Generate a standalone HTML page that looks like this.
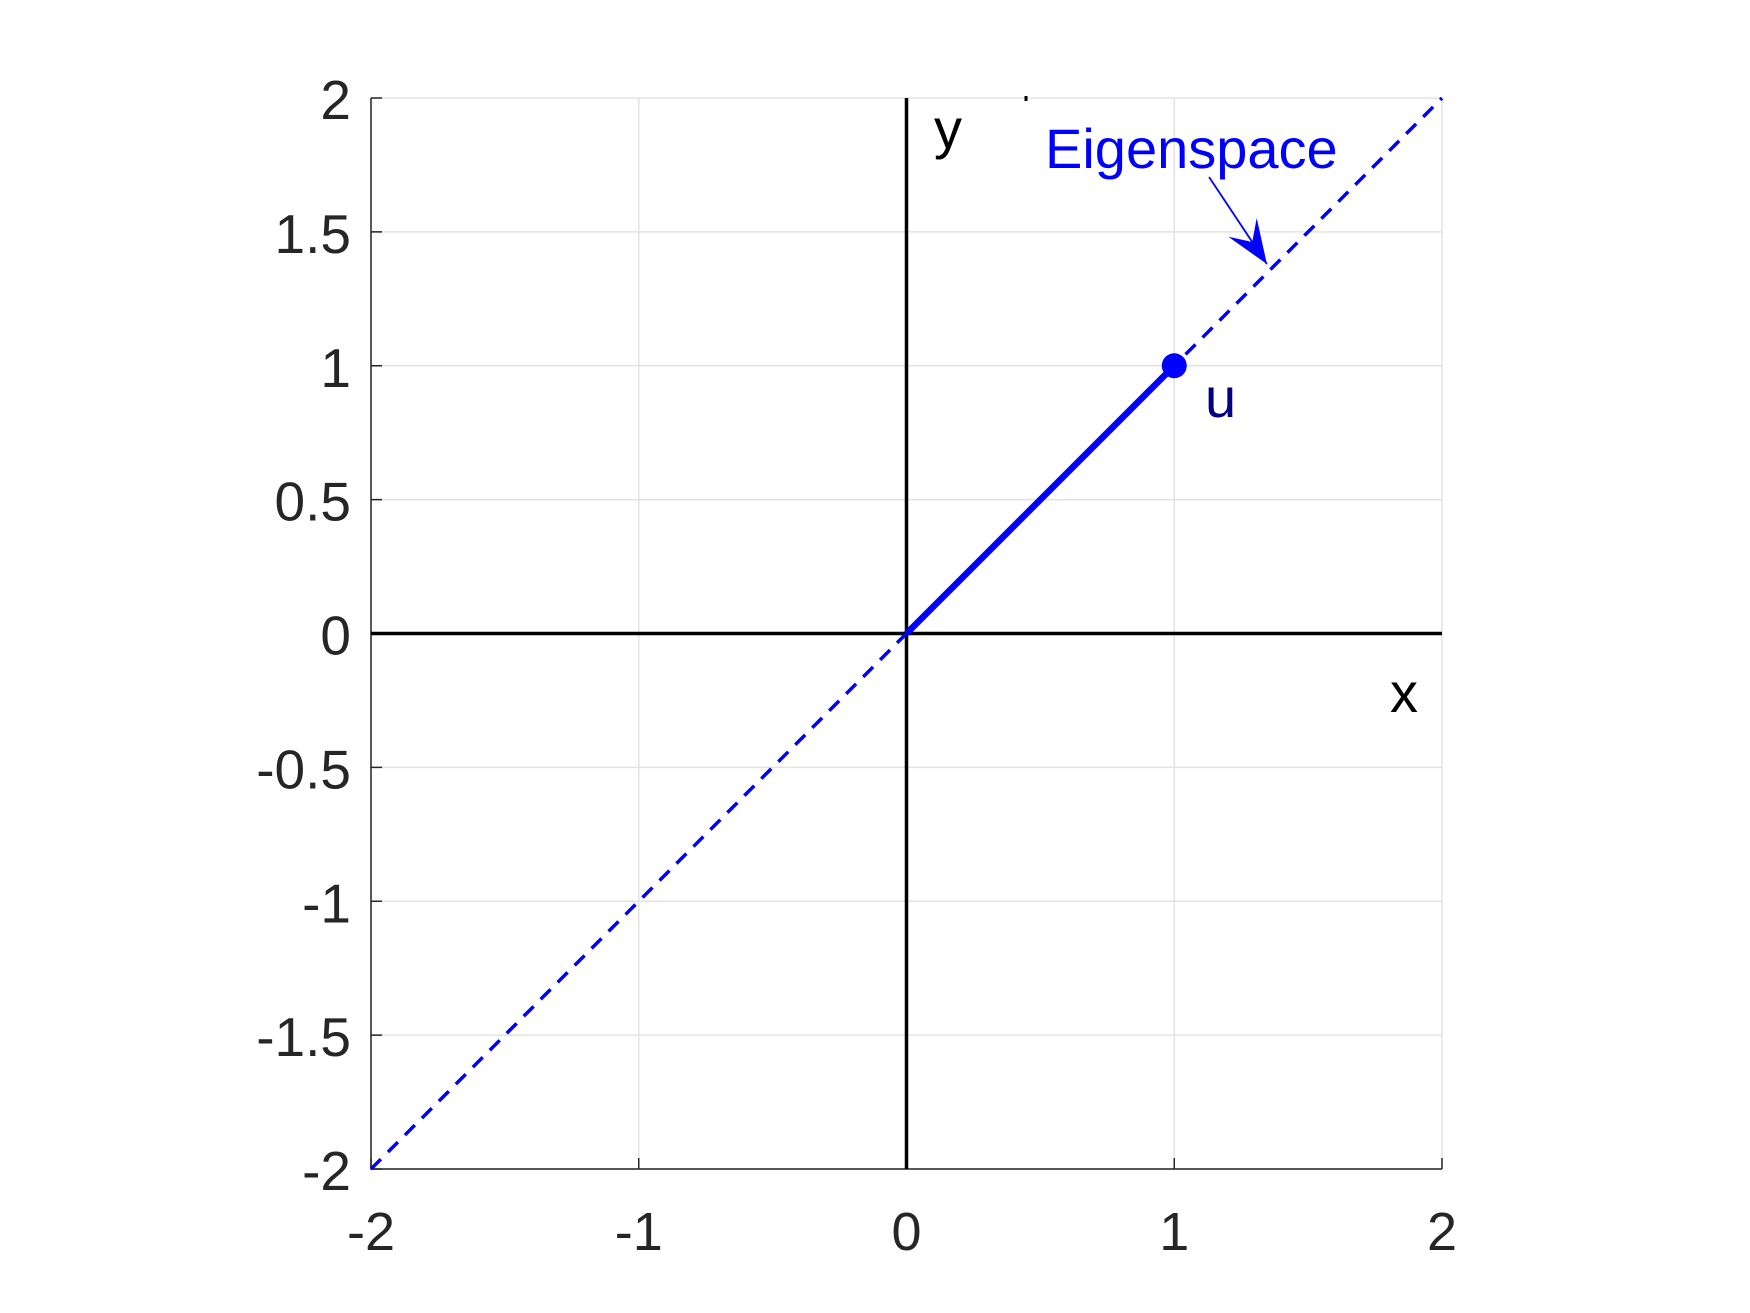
<!DOCTYPE html>
<html><head><meta charset="utf-8"><style>
html,body{margin:0;padding:0;background:#fff;}
svg{display:block;font-family:"Liberation Sans",Arial,sans-serif;}
</style></head><body>
<svg id="chart" width="1750" height="1313" viewBox="0 0 1750 1313">
<g id="grid"></g>
<g id="axes"></g>
<g id="series"></g>
<g id="labels"></g>
</svg>
<script>
const xTicks=[-2,-1,0,1,2];
const yTicks=[-2,-1.5,-1,-0.5,0,0.5,1,1.5,2];
const xTickLabels=["-2","-1","0","1","2"];
const yTickLabels=["-2","-1.5","-1","-0.5","0","0.5","1","1.5","2"];
const eigenLineX=[-2,2];
const eigenLineY=[-2,2];
const vectorX=[0,1];
const vectorY=[0,1];
const pointU=[1,1];
const arrowFrom=[1.13,1.705];
const arrowTo=[1.346,1.38];

const L=371,R=1442,T=98,B=1169;
const sx=v=>L+(v+2)/4*(R-L);
const sy=v=>B-(v+2)/4*(B-T);
const NS="http://www.w3.org/2000/svg";
function mk(tag,attrs,parent){const e=document.createElementNS(NS,tag);for(const k in attrs)e.setAttribute(k,attrs[k]);parent.appendChild(e);return e;}
const grid=document.getElementById('grid'),axes=document.getElementById('axes'),series=document.getElementById('series'),labels=document.getElementById('labels');

xTicks.forEach((t,i)=>{
 let g=mk('line',{x1:sx(t),x2:sx(t),y1:T,y2:B,stroke:'#e3e3e3','stroke-width':1.5},grid);
 
 
 let tk=mk('line',{x1:sx(t),x2:sx(t),y1:B,y2:B-11,stroke:'#262626','stroke-width':1.5},axes);
 
 
 let tx=mk('text',{x:sx(t),y:1250,'font-size':54,fill:'#262626','text-anchor':'middle'},labels);
 tx.textContent=xTickLabels[i];
 
 
});
yTicks.forEach((t,i)=>{
 let g=mk('line',{x1:L,x2:R,y1:sy(t),y2:sy(t),stroke:'#e3e3e3','stroke-width':1.5},grid);
 
 
 let tk=mk('line',{x1:L,x2:L+11,y1:sy(t),y2:sy(t),stroke:'#262626','stroke-width':1.5},axes);
 
 
 let tx=mk('text',{x:351,y:sy(t)+21,'font-size':55,fill:'#262626','text-anchor':'end'},labels);
 tx.textContent=yTickLabels[i];
 
 
});
let bx=mk('path',{d:`M${L},${T} L${L},${B} L${R},${B}`,fill:'none',stroke:'#262626','stroke-width':1.5},axes);


let xa=mk('line',{x1:L,x2:R,y1:sy(0),y2:sy(0),stroke:'#000','stroke-width':3.5},axes);


let ya=mk('line',{x1:sx(0),x2:sx(0),y1:T,y2:B,stroke:'#000','stroke-width':3.5},axes);



let dl=mk('line',{x1:sx(eigenLineX[0]),y1:sy(eigenLineY[0]),x2:sx(eigenLineX[1]),y2:sy(eigenLineY[1]),stroke:'#0000ff','stroke-width':3.5,'stroke-dasharray':'14 10'},series);


let vl=mk('line',{x1:sx(vectorX[0]),y1:sy(vectorY[0]),x2:sx(vectorX[1]),y2:sy(vectorY[1]),stroke:'#0000ff','stroke-width':6.5},series);


let pt=mk('circle',{cx:sx(pointU[0]),cy:sy(pointU[1]),r:12.5,fill:'#0000ff'},series);



const ax1=sx(arrowFrom[0]),ay1=sy(arrowFrom[1]),ax2=sx(arrowTo[0]),ay2=sy(arrowTo[1]);
let al=mk('line',{x1:ax1,y1:ay1,x2:ax2,y2:ay2,stroke:'#0000ff','stroke-width':1.8},series);


const ang=Math.atan2(ay2-ay1,ax2-ax1),hl=44,hw=17;
const bxp=ax2-hl*Math.cos(ang),byp=ay2-hl*Math.sin(ang);
const nx=-Math.sin(ang),ny=Math.cos(ang);
let ah=mk('polygon',{points:`${ax2},${ay2} ${bxp+hw*nx},${byp+hw*ny} ${ax2-hl*0.6*Math.cos(ang)},${ay2-hl*0.6*Math.sin(ang)} ${bxp-hw*nx},${byp-hw*ny}`,fill:'#0000ff'},series);


</script>
<div style="position:absolute;left:0;top:0;width:1750px;height:1313px;pointer-events:none;">
<svg width="1750" height="1313" style="font-family:'Liberation Sans',Arial,sans-serif;">
<text x="1045" y="168" font-size="56" fill="#0000ff">Eigenspace</text>
<text x="1205" y="417" font-size="56" fill="#000080">u</text>
<text x="934" y="148" font-size="56" fill="#000">y</text>
<text x="1390" y="712" font-size="56" fill="#000">x</text>
<line x1="1026" y1="96" x2="1026" y2="101" stroke="#000" stroke-width="3"/>
</svg>
</div>
</body></html>
